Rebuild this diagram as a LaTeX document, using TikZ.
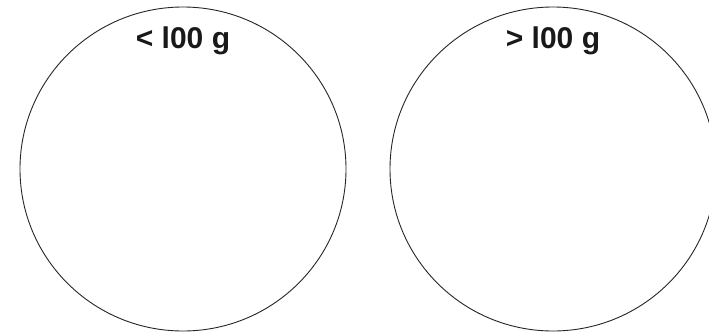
\documentclass[tikz,border=0pt]{standalone}
\usepackage{fontspec}
\setmainfont{Liberation Sans}
\begin{document}
\begin{tikzpicture}[x=1pt,y=1pt,
  ring/.style={draw=black!85,line width=0.9pt},
  label/.style={font=\fontsize{30}{32}\selectfont\bfseries,text=black!90,anchor=base,inner sep=0pt}]
\useasboundingbox (0,0) rectangle (709,333);
\clip (0,0) rectangle (709,333);
\fill[white] (0,0) rectangle (709,333);
\draw[ring] (183,164) ellipse [x radius=163, y radius=162];
\draw[ring] (553,164) ellipse [x radius=163, y radius=162];
\node[label] (lt) at (183,285) {< l00 g};
\node[label] (rt) at (553,285) {> l00 g};
\end{tikzpicture}
\end{document}
